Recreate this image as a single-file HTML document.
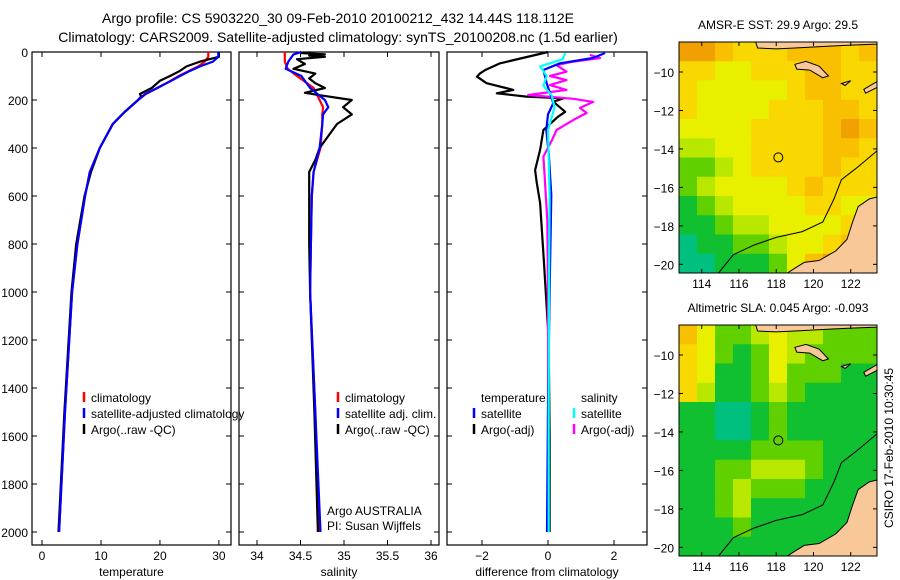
<!DOCTYPE html>
<html><head><meta charset="utf-8"><style>
html,body{margin:0;padding:0;background:#fff;}
svg{display:block;font-family:"Liberation Sans",sans-serif;}
</style></head><body>
<svg id="fig" width="900" height="580" viewBox="0 0 900 580" xmlns="http://www.w3.org/2000/svg">
<text x="338" y="23" font-size="14" text-anchor="middle">Argo profile: CS 5903220_30 09-Feb-2010 20100212_432 14.44S 118.112E</text>
<text x="338" y="42" font-size="14" text-anchor="middle">Climatology: CARS2009. Satellite-adjusted climatology: synTS_20100208.nc (1.5d earlier)</text>
<text x="778" y="29" font-size="12" text-anchor="middle">AMSR-E SST: 29.9 Argo: 29.5</text>
<text x="778" y="312" font-size="12" text-anchor="middle">Altimetric SLA: 0.045 Argo: -0.093</text>
<text transform="translate(893,448) rotate(-90)" font-size="12" text-anchor="middle">CSIRO 17-Feb-2010 10:30:45</text>
</svg>
<script>
// ---------- profile data ----------
const tDepth = [0,20,40,60,80,100,120,150,175,200,250,300,400,500,600,800,1000,1500,2000];
const tClim  = [28.2,28.2,27.6,26.5,24.8,23.2,21.8,19.6,17.6,16.3,14.0,12.0,9.8,8.1,7.3,6.0,5.1,3.9,2.9];
const tSat   = [29.9,29.9,29.0,26.8,25.0,23.4,21.9,19.5,17.5,16.3,14.0,12.0,9.8,8.1,7.3,6.0,5.1,3.9,2.9];
const tArgoDepth = [0,20,40,60,80,100,120,150,175,185,200,250,300,400,500,600,800,1000,1500,2000];
const tArgo  = [30.0,30.0,26.8,24.5,23.3,21.7,20.0,18.6,16.6,16.8,16.3,14.0,12.0,9.8,8.3,7.2,5.8,5.0,3.8,2.8];

const sDepth = [0,10,40,70,100,150,200,230,260,300,400,500,600,800,1000,1500,2000];
const sClim  = [34.32,34.32,34.32,34.35,34.46,34.65,34.72,34.76,34.75,34.75,34.73,34.65,34.63,34.62,34.61,34.67,34.72];
const sSat   = [34.51,34.42,34.36,34.33,34.51,34.61,34.78,34.82,34.76,34.75,34.72,34.65,34.63,34.62,34.61,34.67,34.73];
const sArgoDepth = [4,10,15,20,30,50,70,90,110,130,150,170,180,200,230,260,300,400,450,500,800,1000,1500,2000];
const sArgo  = [34.5,34.78,34.6,34.78,34.46,34.55,34.42,34.67,34.6,34.67,34.78,34.55,34.72,35.09,34.99,35.09,34.92,34.72,34.67,34.6,34.6,34.61,34.66,34.7];

const dTDepth = [0,47,75,89,103,130,158,172,186,193,207,249,270,325,408,492,546,629,879,1200,1600,2000];
const dTArgo  = [0,-1.45,-1.9,-2.06,-2.15,-1.86,-1.05,-1.55,-0.65,0.47,0.16,0.52,0.3,-0.14,-0.24,-0.39,-0.34,-0.24,-0.12,0.02,0.05,0.05];
const dTSatDepth = [4,25,47,75,130,213,260,325,420,596,1000,1500,2000];
const dTSat  = [1.73,1.36,0.36,-0.14,-0.04,0.16,0.0,-0.05,0.02,0.1,0.05,0.0,-0.03];
const dSSatDepth = [4,30,60,100,140,180,230,325,600,1000,1500,2000];
const dSSat  = [0.52,0.45,-0.24,-0.04,-0.14,0.11,0.2,0.0,0.05,0.03,0.02,0.02];
const dSArgoDepth = [12,25,40,55,82,100,117,138,158,179,195,208,233,254,283,325,370,436,520,700,1000,1400,2000];
const dSArgo  = [1.27,1.58,0.77,0.26,0.56,0.06,0.56,0.06,0.56,-0.6,0.77,1.37,0.97,1.17,0.77,0.26,0.11,-0.14,-0.1,-0.02,0.0,0.0,0.0];

const depthTicks = [0,200,400,600,800,1000,1200,1400,1600,1800,2000];
const tTicks = [0,10,20,30];
const sTicks = [34,34.5,35,35.5,36];
const dTicks = [-2,0,2];

// ---------- map data (colour level 0..9 per cell, rows north->south) ----------
const sstLevels = [
[8,8,7,6,6,6,7,7,7,6,7],
[6,6,5,5,6,6,6,7,7,6,6],
[6,5,5,5,5,5,6,7,7,6,6],
[6,5,5,5,5,6,6,6,7,7,6],
[5,5,5,5,6,6,6,6,7,8,7],
[4,4,5,5,6,6,6,6,7,7,6],
[3,3,4,5,6,6,6,6,7,6,6],
[3,4,5,5,5,5,6,7,6,6,6],
[2,3,4,5,5,5,5,6,6,5,5],
[2,2,3,4,4,5,5,5,5,6,7],
[1,2,2,3,3,4,5,5,6,7,7],
[1,1,2,2,2,3,5,7,8,8,8]];
const slaLevels = [
[7,5,3,3,4,5,4,4,3,3,3],
[6,5,3,2,3,5,4,3,3,3,3],
[6,5,2,2,3,5,3,3,3,2,2],
[6,4,2,2,3,4,3,2,2,2,2],
[2,2,1,1,2,3,2,2,2,2,2],
[2,2,1,1,2,3,2,2,2,2,2],
[2,2,2,2,3,3,3,3,2,2,2],
[2,2,3,3,4,4,4,3,2,2,2],
[2,2,3,4,3,3,3,2,2,2,2],
[2,2,3,4,2,2,2,2,2,2,2],
[2,2,2,3,2,2,2,2,2,2,2],
[2,2,2,2,2,2,2,2,2,2,2]];
const mapTicksLon = [114,116,118,120,122];
const mapTicksLat = [-10,-12,-14,-16,-18,-20];
const argoLon = 118.112, argoLat = -14.44;

const NS = "http://www.w3.org/2000/svg";
const svg = document.getElementById('fig');
function mk(tag, attrs, parent){
  const e = document.createElementNS(NS, tag);
  for (const k in attrs) e.setAttribute(k, attrs[k]);
  (parent||svg).appendChild(e);
  return e;
}
const palette = ['#00d0d8','#00c080','#10c030','#60d000','#b8e800','#e8f000','#f8d800','#f8c000','#f0a000','#e08000'];

const Y0 = 52, YPX = 0.24, YBOT = 545;
function yD(d){ return Y0 + d*YPX; }

function panel(name, x0, x1, vmin, vmax, ticks, label, fmt){
  const g = mk('g', {});
  
  
  const xs = v => x0 + (v - vmin)/(vmax - vmin)*(x1 - x0);
  const r = mk('rect', {x:x0, y:Y0, width:x1-x0, height:YBOT-Y0, fill:'none', stroke:'#000', 'stroke-width':1.2}, g);
  
  
  ticks.forEach(t=>{
    const x = xs(t);
    mk('line',{x1:x,x2:x,y1:YBOT,y2:YBOT-5,stroke:'#000'},g);
    mk('line',{x1:x,x2:x,y1:Y0,y2:Y0+5,stroke:'#000'},g);
    const tx = mk('text',{x:x,y:YBOT+15,'font-size':12,'text-anchor':'middle'},g);
    tx.textContent = fmt(t);
    
    
  });
  depthTicks.forEach(d=>{
    const y = yD(d);
    mk('line',{x1:x0,x2:x0+5,y1:y,y2:y,stroke:'#000'},g);
    mk('line',{x1:x1,x2:x1-5,y1:y,y2:y,stroke:'#000'},g);
  });
  const lb = mk('text',{x:(x0+x1)/2,y:576,'font-size':12,'text-anchor':'middle'},g);
  lb.textContent = label;
  
  
  return {g, xs};
}
function series(p, depths, vals, color, name, w){
  const pts = depths.map((d,i)=> p.xs(vals[i]).toFixed(1)+','+yD(d).toFixed(1)).join(' ');
  const pl = mk('polyline',{points:pts,fill:'none',stroke:color,'stroke-width':w||2.2,'stroke-linejoin':'round'},p.g);
  
  
}
function legendEntry(g, x, y, color, text, name){
  mk('line',{x1:x,x2:x,y1:y-10,y2:y,stroke:color,'stroke-width':2.5},g);
  const t = mk('text',{x:x+7,y:y,'font-size':12},g);
  t.textContent = text;
  
  
}

depthTicks.forEach(d=>{
  const t = mk('text',{x:28,y:yD(d)+5,'font-size':12,'text-anchor':'end'});
  t.textContent = d;
  
  
});

const pT = panel('temperature-panel', 32, 231, -1.7, 32.05, tTicks, 'temperature', v=>v);
series(pT, tDepth, tClim, '#f00', 'temperature-climatology-line');
series(pT, tArgoDepth, tArgo, '#000', 'temperature-argo-line');
series(pT, tDepth, tSat, '#00f', 'temperature-satellite-line');
legendEntry(pT.g, 84, 402, '#f00', 'climatology', 'legend-entry-climatology');
legendEntry(pT.g, 84, 418, '#00f', 'satellite-adjusted climatology', 'legend-entry-satellite-adjusted');
legendEntry(pT.g, 84, 434, '#000', 'Argo(..raw -QC)', 'legend-entry-argo');

const pS = panel('salinity-panel', 239, 439, 33.793, 36.092, sTicks, 'salinity', v=>v);
series(pS, sDepth, sClim, '#f00', 'salinity-climatology-line');
series(pS, sArgoDepth, sArgo, '#000', 'salinity-argo-line');
series(pS, sDepth, sSat, '#00f', 'salinity-satellite-line');
legendEntry(pS.g, 338, 402, '#f00', 'climatology', 'legend-entry-sal-climatology');
legendEntry(pS.g, 338, 418, '#00f', 'satellite adj. clim.', 'legend-entry-sal-satellite');
legendEntry(pS.g, 338, 434, '#000', 'Argo(..raw -QC)', 'legend-entry-sal-argo');
[['Argo AUSTRALIA',515,'argo-institution'],['PI: Susan Wijffels',530,'argo-pi']].forEach(a=>{
  const t = mk('text',{x:327,y:a[1],'font-size':12},pS.g);
  t.textContent = a[0];
  
  
});

const pD = panel('difference-panel', 447, 647, -3.06, 3.0, dTicks, 'difference from climatology', v=>v===0?'0':(v<0?'\u2212'+(-v):v));
series(pD, dTDepth, dTArgo, '#000', 'diff-temperature-argo-line');
series(pD, dSArgoDepth, dSArgo, '#f0f', 'diff-salinity-argo-line');
series(pD, dTSatDepth, dTSat, '#00f', 'diff-temperature-satellite-line');
series(pD, dSSatDepth, dSSat, '#0ff', 'diff-salinity-satellite-line');
[['temperature',481,'legend-temperature-heading'],['salinity',581,'legend-salinity-heading']].forEach(a=>{
  const t = mk('text',{x:a[1],y:402,'font-size':12},pD.g);
  t.textContent = a[0];
  
  
});
legendEntry(pD.g, 474, 418, '#00f', 'satellite', 'legend-entry-temp-satellite');
legendEntry(pD.g, 474, 434, '#000', 'Argo(-adj)', 'legend-entry-temp-argo');
legendEntry(pD.g, 574, 418, '#0ff', 'satellite', 'legend-entry-sal-satellite-diff');
legendEntry(pD.g, 574, 434, '#f0f', 'Argo(-adj)', 'legend-entry-sal-argo-diff');

const LON0 = 112.78, LON1 = 123.41, LAT0 = -8.44, LAT1 = -20.45;
function drawMap(name, top, levels){
  const L = 679, R = 877, B = top + 231;
  const g = mk('g',{});
  
  
  const px = lon => L + (lon-LON0)/(LON1-LON0)*(R-L);
  const py = lat => top + (lat-LAT0)/(LAT1-LAT0)*(B-top);
  const nr = levels.length, nc = levels[0].length;
  const cw = (R-L)/nc, ch = (B-top)/nr;
  levels.forEach((row,i)=>row.forEach((v,j)=>{
    const c = mk('rect',{x:L+j*cw,y:top+i*ch,width:cw+0.5,height:ch+0.5,fill:palette[v]},g);
    
    
  }));
  const poly = (pts, fill, nm) => {
    const p = mk('polygon',{points:pts.map(q=>px(q[0]).toFixed(1)+','+py(q[1]).toFixed(1)).join(' '),fill:fill,stroke:'#000','stroke-width':1},g);
    
    
  };
  poly([[116.9,-8.44],[117,-8.75],[118,-8.8],[119,-8.75],[120,-8.7],[121,-8.65],[122,-8.6],[123.41,-8.55],[123.41,-8.44]],'#f8c898', name+'-north-islands');
  poly([[119,-9.6],[119.6,-9.45],[120.3,-9.7],[120.8,-10.2],[120.5,-10.3],[119.8,-9.9],[119.1,-9.85]],'#f8c898', name+'-sumba-island');
  poly([[121.5,-10.6],[122.0,-10.45],[121.7,-10.7]],'#f8c898', name+'-small-island');
  poly([[122.7,-10.9],[123.41,-10.5],[123.41,-10.8],[122.8,-11.1]],'#f8c898', name+'-rote-island');
  poly([[123.41,-16.5],[123,-16.6],[122.4,-17.0],[122.1,-17.8],[121.8,-18.7],[121.2,-19.3],[120.3,-19.8],[119.5,-19.9],[119.0,-20.2],[118.6,-20.45],[123.41,-20.45]],'#f8c898', name+'-australia-mainland');
  const iso = [[114.9,-20.45],[115.7,-19.5],[116.8,-19.0],[118,-18.6],[119.4,-18.3],[120.5,-17.8],[121.1,-16.6],[121.5,-15.6],[122.3,-15.0],[123.41,-14.1]];
  const il = mk('polyline',{points:iso.map(q=>px(q[0]).toFixed(1)+','+py(q[1]).toFixed(1)).join(' '),fill:'none',stroke:'#000','stroke-width':1},g);
  
  
  const c = mk('circle',{cx:px(argoLon),cy:py(argoLat),r:4.5,fill:'none',stroke:'#000','stroke-width':1},g);
  
  
  mk('rect',{x:L,y:top,width:R-L,height:B-top,fill:'none',stroke:'#000','stroke-width':1},g);
  mapTicksLon.forEach(lon=>{
    const x = px(lon);
    mk('line',{x1:x,x2:x,y1:B,y2:B-4,stroke:'#000'},g);
    mk('line',{x1:x,x2:x,y1:top,y2:top+4,stroke:'#000'},g);
    const t = mk('text',{x:x,y:B+15,'font-size':12,'text-anchor':'middle'},g);
    t.textContent = lon;
    
    
  });
  mapTicksLat.forEach(lat=>{
    const y = py(lat);
    mk('line',{x1:L,x2:L+4,y1:y,y2:y,stroke:'#000'},g);
    mk('line',{x1:R,x2:R-4,y1:y,y2:y,stroke:'#000'},g);
    const t = mk('text',{x:L-5,y:y+5,'font-size':12,'text-anchor':'end'},g);
    t.textContent = '\u2212'+(-lat);
    
    
  });
}
drawMap('sst-map', 42, sstLevels);
drawMap('sla-map', 325, slaLevels);
</script>
</body></html>
